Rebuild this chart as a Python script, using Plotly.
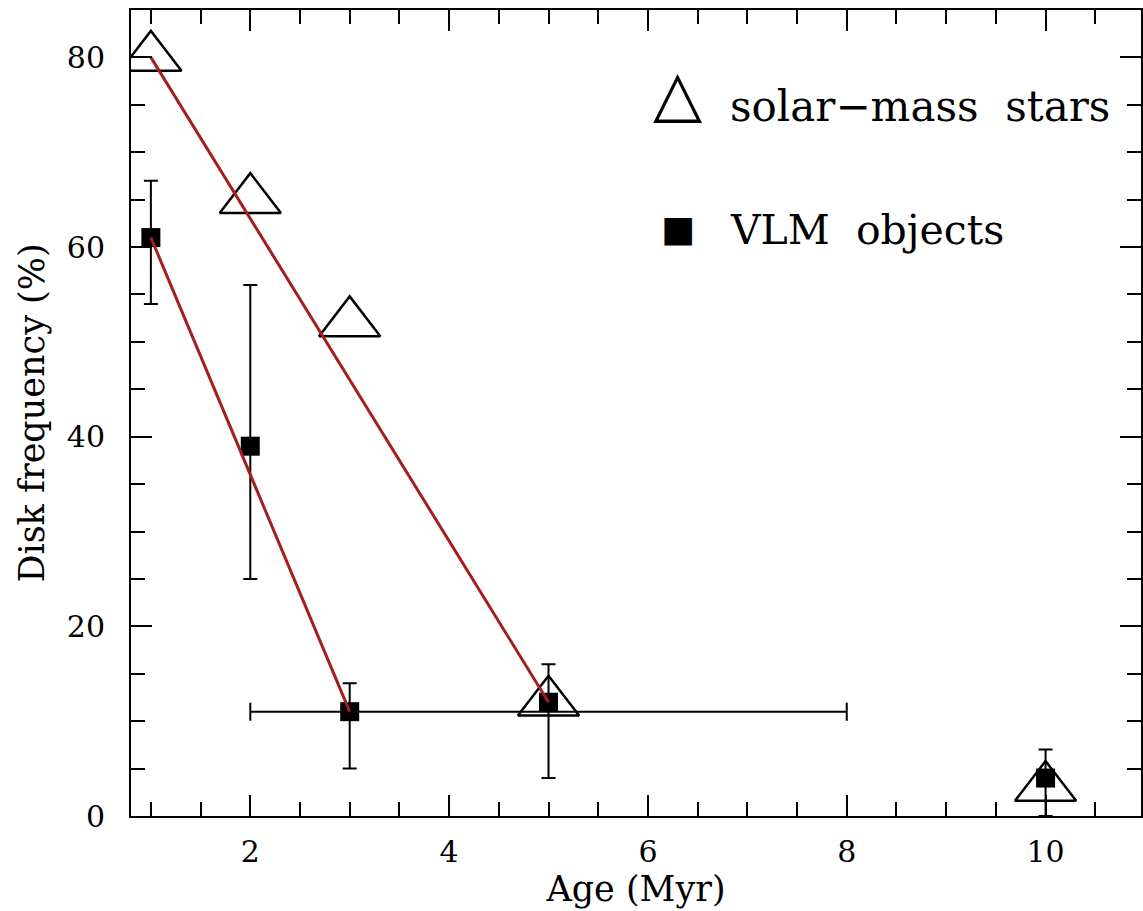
import plotly.graph_objects as go

# ---- data ----
age = [1, 2, 3, 5, 10]
solar_freq = [80, 65, 52, 12, 3]

vlm_freq = [61, 39, 11, 12, 4]
vlm_err_plus = [6, 17, 3, 4, 3]
vlm_err_minus = [7, 14, 6, 8, 4]
vlm_xerr_plus = [None, None, 5, None, None]
vlm_xerr_minus = [None, None, 1, None, None]

fit_solar_x = [1, 5]
fit_solar_y = [80, 12]
fit_vlm_x = [1, 3]
fit_vlm_y = [61, 11]

x_ticks = [2, 4, 6, 8, 10]
y_ticks = [0, 20, 40, 60, 80]

FONT = "DejaVu Serif"
RED = "#a51e1e"

fig = go.Figure()

fig.add_trace(go.Scatter(
    x=age, y=solar_freq, mode="markers",
    marker=dict(symbol="triangle-up-open", size=53, color="black",
                line=dict(color="black", width=2.5)),
    showlegend=False, hoverinfo="skip"))

fig.add_trace(go.Scatter(
    x=age, y=vlm_freq, mode="markers",
    marker=dict(symbol="square", size=19, color="black",
                line=dict(width=0)),
    error_y=dict(type="data", symmetric=False, array=vlm_err_plus,
                 arrayminus=vlm_err_minus, color="black", thickness=2, width=7),
    error_x=dict(type="data", symmetric=False, array=vlm_xerr_plus,
                 arrayminus=vlm_xerr_minus, color="black", thickness=2, width=9),
    showlegend=False, hoverinfo="skip"))

fig.add_trace(go.Scatter(
    x=fit_solar_x, y=fit_solar_y, mode="lines",
    line=dict(color=RED, width=3), showlegend=False, hoverinfo="skip"))
fig.add_trace(go.Scatter(
    x=fit_vlm_x, y=fit_vlm_y, mode="lines",
    line=dict(color=RED, width=3), showlegend=False, hoverinfo="skip"))

axis_common = dict(
    showgrid=False, zeroline=False, showline=True, linecolor="black",
    linewidth=2, mirror="allticks", ticks="inside", ticklen=21,
    tickwidth=2, tickcolor="black",
    tickfont=dict(family=FONT, size=30, color="black"),
)

fig.update_xaxes(
    **axis_common, range=[0.8, 10.96], tickmode="array", tickvals=x_ticks,
    ticktext=[str(v) for v in x_ticks], ticklabelstandoff=8,
    minor=dict(dtick=0.5, tick0=0, ticks="inside", ticklen=14, tickwidth=2,
               tickcolor="black"),
    title=dict(text="Age (Myr)", font=dict(family=FONT, size=35, color="black"),
               standoff=2))
fig.update_yaxes(
    **axis_common, range=[0, 85], tickmode="array", tickvals=y_ticks,
    ticktext=[str(v) for v in y_ticks], ticklabelstandoff=18,
    minor=dict(dtick=5, tick0=0, ticks="inside", ticklen=14, tickwidth=2,
               tickcolor="black"),
    title=dict(text="Disk frequency (%)", font=dict(family=FONT, size=35, color="black"),
               standoff=12))

# legend drawn as text
fig.add_annotation(xref="paper", yref="paper", x=0.591, y=0.88, xanchor="left",
                   yanchor="middle", showarrow=False,
                   text="solar\u2212mass\u00a0 stars",
                   font=dict(family=FONT, size=42, color="black"))
fig.add_annotation(xref="paper", yref="paper", x=0.591, y=0.727, xanchor="left",
                   yanchor="middle", showarrow=False,
                   text="VLM\u00a0 objects",
                   font=dict(family=FONT, size=41, color="black"))
fig.add_annotation(xref="paper", yref="paper", x=0.5415, y=0.897, xanchor="center",
                   yanchor="middle", showarrow=False, text="\u25b3",
                   font=dict(family="DejaVu Sans", size=64, color="black"))
fig.add_annotation(xref="paper", yref="paper", x=0.5415, y=0.729, xanchor="center",
                   yanchor="middle", showarrow=False, text="\u25a0",
                   font=dict(family="DejaVu Sans", size=36, color="black"))

fig.update_layout(
    width=1143, height=911,
    margin=dict(l=131, r=0, t=10, b=95),
    paper_bgcolor="white", plot_bgcolor="white",
    font=dict(family=FONT, color="black"),
)

fig.write_html("out.html")
